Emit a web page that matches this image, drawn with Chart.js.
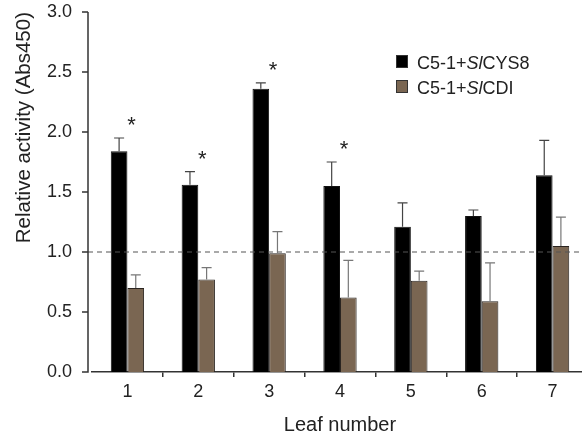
<!DOCTYPE html>
<html>
<head>
<meta charset="utf-8">
<script src="https://cdn.jsdelivr.net/npm/chart.js@4/dist/chart.umd.min.js"></script>
<style>
  html, body { margin: 0; padding: 0; background: #fff; overflow: hidden; }
  #wrap { width: 588px; height: 438px; }
</style>
</head>
<body>
<div id="wrap"><canvas id="chart"></canvas></div>
<script>
// datos
const leaves = ['1', '2', '3', '4', '5', '6', '7'];
const cys8 = [1.84, 1.56, 2.36, 1.55, 1.21, 1.30, 1.64];
const cys8Err = [0.11, 0.11, 0.05, 0.20, 0.20, 0.05, 0.29];
const cdi = [0.70, 0.77, 0.99, 0.62, 0.76, 0.59, 1.05];
const cdiErr = [0.11, 0.10, 0.18, 0.31, 0.08, 0.32, 0.24];
const significant = [true, true, true, true, false, false, false];
const yTicks = [0, 0.5, 1.0, 1.5, 2.0, 2.5, 3.0];
const yTitle = 'Relative activity (Abs450)';
const legendLabels = [['C5-1+', 'Sl', 'CYS8'], ['C5-1+', 'Sl', 'CDI']];

const FONT = '"Liberation Sans", Arial, Helvetica, sans-serif';
const BROWN = '#7a6652';

// barras de error, línea punteada, eje y, asteriscos y leyenda
const extras = {
    id: 'extras',
    afterDatasetsDraw(chart) {
        const ctx = chart.ctx;
        const y = chart.scales.y;
        const area = chart.chartArea;
        const errs = [cys8Err, cdiErr];
        const cols = ['#444', '#777'];

        ctx.save();
        // línea de referencia en 1.0
        ctx.strokeStyle = '#555';
        ctx.lineWidth = 1.2;
        ctx.setLineDash([5, 4]);
        ctx.beginPath();
        ctx.moveTo(area.left - 4, y.getPixelForValue(1));
        ctx.lineTo(area.right, y.getPixelForValue(1));
        ctx.stroke();
        ctx.setLineDash([]);

        // barras de error (solo hacia arriba)
        chart.data.datasets.forEach((ds, di) => {
            const meta = chart.getDatasetMeta(di);
            meta.data.forEach((bar, i) => {
                const top = y.getPixelForValue(ds.data[i] + errs[di][i]);
                ctx.strokeStyle = cols[di];
                ctx.lineWidth = 1.2;
                ctx.beginPath();
                ctx.moveTo(bar.x, bar.y);
                ctx.lineTo(bar.x, top);
                ctx.moveTo(bar.x - 5, top);
                ctx.lineTo(bar.x + 5, top);
                ctx.stroke();
            });
        });

        // asteriscos
        const x = chart.scales.x;
        ctx.fillStyle = '#222';
        ctx.font = '22px ' + FONT;
        ctx.textAlign = 'center';
        ctx.textBaseline = 'middle';
        significant.forEach((s, i) => {
            if (!s) return;
            const top = y.getPixelForValue(cys8[i] + cys8Err[i]);
            ctx.fillText('*', x.getPixelForValue(i) + 4, top - 12);
        });

        // eje y
        const ax = area.left - 4;
        ctx.strokeStyle = '#333';
        ctx.lineWidth = 1.5;
        ctx.beginPath();
        ctx.moveTo(ax, area.top);
        ctx.lineTo(ax, area.bottom + 0.75);
        yTicks.forEach(v => {
            const py = y.getPixelForValue(v);
            ctx.moveTo(ax - 6, py);
            ctx.lineTo(ax, py);
        });
        ctx.stroke();

        // título del eje y, alineado arriba
        ctx.save();
        ctx.translate(24, area.top);
        ctx.rotate(-Math.PI / 2);
        ctx.font = '20.5px ' + FONT;
        ctx.fillStyle = '#222';
        ctx.textAlign = 'right';
        ctx.textBaseline = 'middle';
        ctx.fillText(yTitle, 0, 0);
        ctx.restore();

        // leyenda
        const lx = 396, ly = [55, 80];
        const fills = ['#000', BROWN];
        legendLabels.forEach((parts, k) => {
            ctx.fillStyle = fills[k];
            ctx.fillRect(lx, ly[k], 12, 13);
            ctx.strokeStyle = '#333';
            ctx.lineWidth = 1;
            ctx.strokeRect(lx + 0.5, ly[k] + 0.5, 11, 12);
            let tx = 417;
            ctx.fillStyle = '#222';
            ctx.textAlign = 'left';
            ctx.textBaseline = 'alphabetic';
            parts.forEach((p, j) => {
                ctx.font = (j === 1 ? 'italic ' : '') + '18px ' + FONT;
                ctx.fillText(p, tx, ly[k] + 13.5);
                tx += ctx.measureText(p).width;
            });
        });
        ctx.restore();
    }
};

new Chart(document.getElementById('chart'), {
    type: 'bar',
    data: {
        labels: leaves,
        datasets: [
            {
                label: 'C5-1+SlCYS8',
                data: cys8,
                backgroundColor: '#000',
                borderColor: '#111',
                borderWidth: 1,
                categoryPercentage: 0.47,
                barPercentage: 1
            },
            {
                label: 'C5-1+SlCDI',
                data: cdi,
                backgroundColor: BROWN,
                borderColor: '#2a2420',
                borderWidth: 1,
                categoryPercentage: 0.47,
                barPercentage: 1
            }
        ]
    },
    options: {
        responsive: true,
        maintainAspectRatio: false,
        animation: false,
        layout: { padding: { top: 12, left: 0, right: 0, bottom: 0 } },
        plugins: {
            legend: { display: false },
            tooltip: { enabled: false }
        },
        scales: {
            x: {
                afterFit: s => { s.height = 66; s.paddingLeft = 0; s.paddingRight = 0; },
                grid: {
                    drawOnChartArea: false,
                    tickLength: 5,
                    lineWidth: 1.5,
                    color: c => (c.index === 0 ? 'rgba(0,0,0,0)' : '#333')
                },
                border: { display: true, color: '#333', width: 1.5 },
                ticks: { color: '#222', font: { family: FONT, size: 18 }, padding: 4 },
                title: {
                    display: true,
                    text: 'Leaf number',
                    color: '#222',
                    font: { family: FONT, size: 20 },
                    padding: { top: 0, bottom: 1 }
                }
            },
            y: {
                min: 0,
                max: 3,
                afterFit: s => { s.width = 92; s.paddingTop = 0; s.paddingBottom = 0; },
                grid: { display: false },
                border: { display: false },
                ticks: {
                    stepSize: 0.5,
                    color: '#222',
                    font: { family: FONT, size: 18 },
                    padding: 12,
                    callback: v => v.toFixed(1)
                },
                title: { display: false }
            }
        }
    },
    plugins: [extras]
});
</script>
</body>
</html>
